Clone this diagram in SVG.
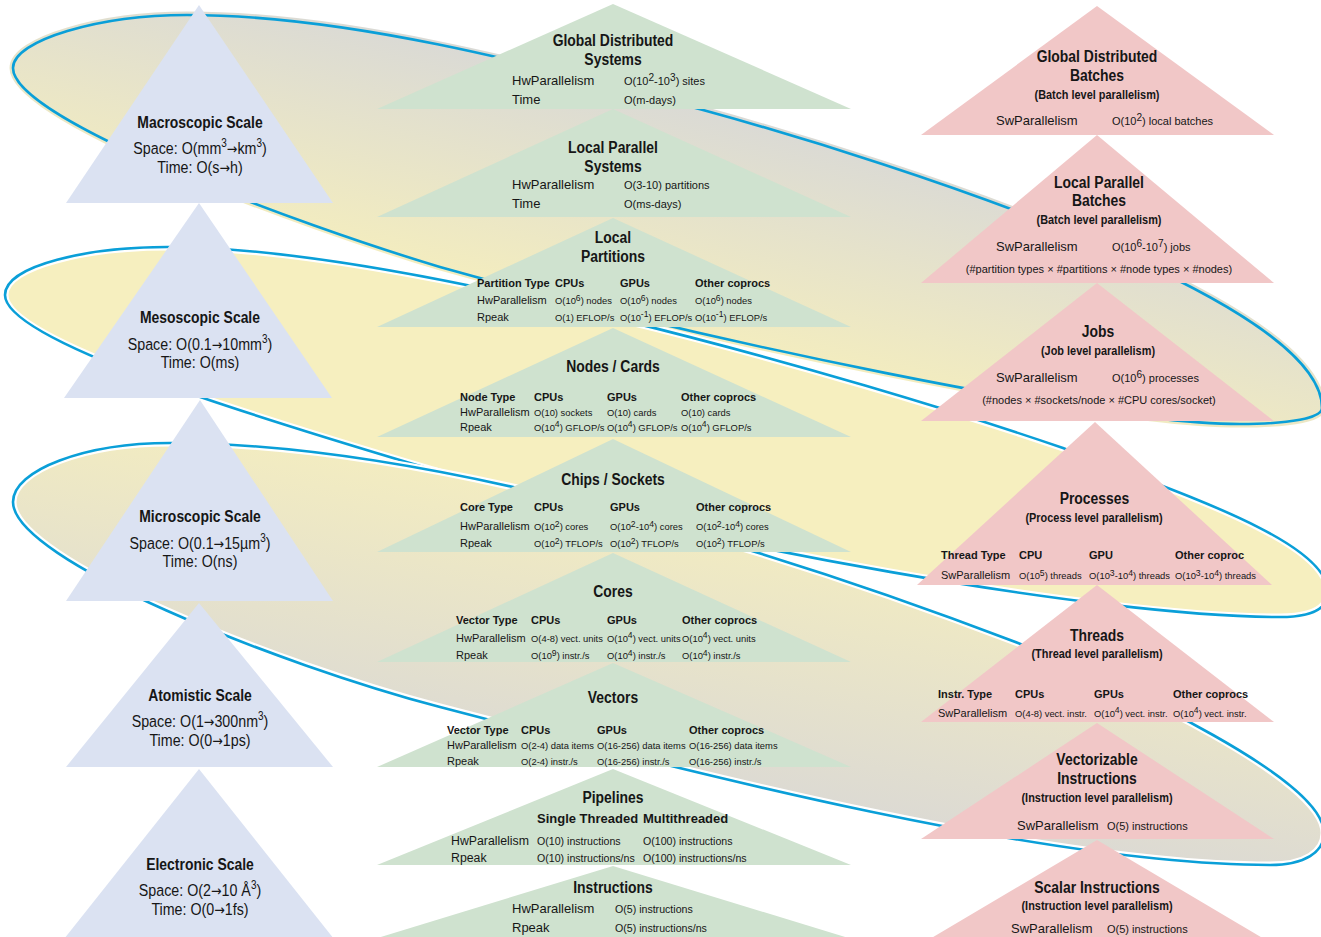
<svg xmlns="http://www.w3.org/2000/svg" width="1321" height="937" viewBox="0 0 1321 937">
<defs>
  <linearGradient id="gA" gradientUnits="userSpaceOnUse" x1="690" y1="95" x2="630" y2="335">
    <stop offset="0" stop-color="#d9d9d6"/>
    <stop offset="1" stop-color="#f5eebd"/>
  </linearGradient>
  <linearGradient id="gC" gradientUnits="userSpaceOnUse" x1="640" y1="480" x2="590" y2="780">
    <stop offset="0" stop-color="#f5eebf"/>
    <stop offset="1" stop-color="#dbd9d4"/>
  </linearGradient>
  <!-- the three scale bands behind the pyramids -->
  <path id="shapeA" d="M13,68 C13,40 100,15 187,15 C360,15 560,72 703,110 C900,164 1322,300 1322,408 C1322,418 1290,424 1240,424 C1100,424 700,340 440,267 C300,225 13,120 13,68 Z"/>
  <path id="shapeB" d="M5,295 C5,265 90,247 167,247 C400,247 850,375 1063,448 C1170,490 1328,540 1328,592 C1328,610 1310,617 1280,617 C1100,617 700,545 440,472 C300,430 5,345 5,295 Z"/>
  <path id="shapeC" d="M13,502 C13,470 85,443 170,443 C450,443 820,567 1018,643 C1130,688 1324,780 1324,833 C1324,852 1305,865 1270,865 C1050,865 700,775 440,707 C280,665 13,560 13,502 Z"/>
  <style>
    text{font-family:"Liberation Sans",Arial,Helvetica,sans-serif;fill:#161616}
    .tt{font-size:17px;font-weight:bold;text-anchor:middle}
    .sub{font-size:13px;font-weight:bold;text-anchor:middle}
    .bd{font-size:17px;text-anchor:middle}
    .lb{font-size:13px}
    .vl{font-size:11px}
    .th{font-size:11px;font-weight:bold}
    .tl{font-size:11px}
    .tv{font-size:9.4px}
    .nt{font-size:11px;text-anchor:middle}
    .th2{font-size:13px;font-weight:bold}
    .lb2{font-size:12.3px}
    .vl2{font-size:10.6px}
    .sp{font-size:70%}
    .su{font-size:92%}
    .ar{font-family:"DejaVu Sans",sans-serif;font-size:15px}
    .blue{fill:#dbe2f2}
    .green{fill:#cfe2cf}
    .pink{fill:#f1c7c7}
    .rim{fill:none;stroke:#0a9fd8;stroke-width:2.6}
    .halo{fill:none;stroke:#ffffff;stroke-width:7}
  </style>
</defs>

<rect width="1321" height="937" fill="#ffffff"/>

<g id="bands">
  <use href="#shapeA" fill="url(#gA)" stroke="url(#gA)" stroke-width="7"/>
  <use href="#shapeA" class="rim"/>
  <use href="#shapeB" fill="#f6efbf"/>
  <use href="#shapeB" class="halo"/>
  <use href="#shapeB" class="rim"/>
  <use href="#shapeC" fill="url(#gC)"/>
  <use href="#shapeC" class="halo"/>
  <use href="#shapeC" class="rim"/>
</g>

<!-- physical scales -->
<g id="scale-macroscopic">
  <polygon class="blue" points="199,5 333,203 66,203"/>
  <text class="tt" transform="translate(200 127.5) scale(.82 1)">Macroscopic Scale</text>
  <text class="bd" transform="translate(200 154) scale(.84 1)">Space: O(mm<tspan class="sp" dy="-7">3</tspan><tspan class="ar" dy="7">→</tspan>km<tspan class="sp" dy="-7">3</tspan><tspan dy="7">)</tspan></text>
  <text class="bd" transform="translate(200 173) scale(.84 1)">Time: O(s<tspan class="ar">→</tspan>h)</text>
</g>
<g id="scale-mesoscopic">
  <polygon class="blue" points="199,203 332,398 64,398"/>
  <text class="tt" transform="translate(200 323) scale(.82 1)">Mesoscopic Scale</text>
  <text class="bd" transform="translate(200 350) scale(.84 1)">Space: O(0.1<tspan class="ar">→</tspan>10mm<tspan class="sp" dy="-7">3</tspan><tspan dy="7">)</tspan></text>
  <text class="bd" transform="translate(200 368) scale(.84 1)">Time: O(ms)</text>
</g>
<g id="scale-microscopic">
  <polygon class="blue" points="200,400 333,601 66,601"/>
  <text class="tt" transform="translate(200 521.7) scale(.82 1)">Microscopic Scale</text>
  <text class="bd" transform="translate(200 549.3) scale(.84 1)">Space: O(0.1<tspan class="ar">→</tspan>15µm<tspan class="sp" dy="-7">3</tspan><tspan dy="7">)</tspan></text>
  <text class="bd" transform="translate(200 566.7) scale(.84 1)">Time: O(ns)</text>
</g>
<g id="scale-atomistic">
  <polygon class="blue" points="199,603 333,767 66,767"/>
  <text class="tt" transform="translate(200 701) scale(.82 1)">Atomistic Scale</text>
  <text class="bd" transform="translate(200 727.3) scale(.84 1)">Space: O(1<tspan class="ar">→</tspan>300nm<tspan class="sp" dy="-7">3</tspan><tspan dy="7">)</tspan></text>
  <text class="bd" transform="translate(200 746) scale(.84 1)">Time: O(0<tspan class="ar">→</tspan>1ps)</text>
</g>
<g id="scale-electronic">
  <polygon class="blue" points="199,769 334,939 64,939"/>
  <text class="tt" transform="translate(200 870) scale(.82 1)">Electronic Scale</text>
  <text class="bd" transform="translate(200 896) scale(.84 1)">Space: O(2<tspan class="ar">→</tspan>10 Å<tspan class="sp" dy="-7">3</tspan><tspan dy="7">)</tspan></text>
  <text class="bd" transform="translate(200 915) scale(.84 1)">Time: O(0<tspan class="ar">→</tspan>1fs)</text>
</g>

<!-- hardware hierarchy -->
<g id="hw-global-distributed-systems">
  <polygon class="green" points="613,4 851,109 377,109"/>
  <text class="tt" transform="translate(613 46) scale(.82 1)">Global Distributed</text>
  <text class="tt" transform="translate(613 65) scale(.82 1)">Systems</text>
  <text class="lb" x="512" y="85">HwParallelism</text>
  <text class="vl" x="624" y="85">O(10<tspan class="su" dy="-4.5">2</tspan><tspan dy="4.5">-10</tspan><tspan class="su" dy="-4.5">3</tspan><tspan dy="4.5">) sites</tspan></text>
  <text class="lb" x="512" y="104">Time</text>
  <text class="vl" x="624" y="104">O(m-days)</text>
</g>
<g id="hw-local-parallel-systems">
  <polygon class="green" points="613,109 851,217 377,217"/>
  <text class="tt" transform="translate(613 152.7) scale(.82 1)">Local Parallel</text>
  <text class="tt" transform="translate(613 171.7) scale(.82 1)">Systems</text>
  <text class="lb" x="512" y="189.3">HwParallelism</text>
  <text class="vl" x="624" y="189.3">O(3-10) partitions</text>
  <text class="lb" x="512" y="208.3">Time</text>
  <text class="vl" x="624" y="208.3">O(ms-days)</text>
</g>
<g id="hw-local-partitions">
  <polygon class="green" points="613,218 851,327 377,327"/>
  <text class="tt" transform="translate(613 242.7) scale(.82 1)">Local</text>
  <text class="tt" transform="translate(613 261.7) scale(.82 1)">Partitions</text>
  <text class="th" x="477" y="286.7">Partition Type</text>
  <text class="th" x="555" y="286.7">CPUs</text>
  <text class="th" x="620" y="286.7">GPUs</text>
  <text class="th" x="695" y="286.7">Other coprocs</text>
  <text class="tl" x="477" y="304">HwParallelism</text>
  <text class="tv" x="555" y="304">O(10<tspan class="su" dy="-3.5">6</tspan><tspan dy="3.5">) nodes</tspan></text>
  <text class="tv" x="620" y="304">O(10<tspan class="su" dy="-3.5">6</tspan><tspan dy="3.5">) nodes</tspan></text>
  <text class="tv" x="695" y="304">O(10<tspan class="su" dy="-3.5">6</tspan><tspan dy="3.5">) nodes</tspan></text>
  <text class="tl" x="477" y="320.7">Rpeak</text>
  <text class="tv" x="555" y="320.7">O(1) EFLOP/s</text>
  <text class="tv" x="620" y="320.7">O(10<tspan class="su" dy="-3.5">-1</tspan><tspan dy="3.5">) EFLOP/s</tspan></text>
  <text class="tv" x="695" y="320.7">O(10<tspan class="su" dy="-3.5">-1</tspan><tspan dy="3.5">) EFLOP/s</tspan></text>
</g>
<g id="hw-nodes-cards">
  <polygon class="green" points="613,328 851,437 377,437"/>
  <text class="tt" transform="translate(613 371.7) scale(.82 1)">Nodes / Cards</text>
  <text class="th" x="460" y="401">Node Type</text>
  <text class="th" x="534" y="401">CPUs</text>
  <text class="th" x="607" y="401">GPUs</text>
  <text class="th" x="681" y="401">Other coprocs</text>
  <text class="tl" x="460" y="415.7">HwParallelism</text>
  <text class="tv" x="534" y="415.7">O(10) sockets</text>
  <text class="tv" x="607" y="415.7">O(10) cards</text>
  <text class="tv" x="681" y="415.7">O(10) cards</text>
  <text class="tl" x="460" y="430.7">Rpeak</text>
  <text class="tv" x="534" y="430.7">O(10<tspan class="su" dy="-3.5">4</tspan><tspan dy="3.5">) GFLOP/s</tspan></text>
  <text class="tv" x="607" y="430.7">O(10<tspan class="su" dy="-3.5">4</tspan><tspan dy="3.5">) GFLOP/s</tspan></text>
  <text class="tv" x="681" y="430.7">O(10<tspan class="su" dy="-3.5">4</tspan><tspan dy="3.5">) GFLOP/s</tspan></text>
</g>
<g id="hw-chips-sockets">
  <polygon class="green" points="613,439 851,552 377,552"/>
  <text class="tt" transform="translate(613 485) scale(.82 1)">Chips / Sockets</text>
  <text class="th" x="460" y="510.7">Core Type</text>
  <text class="th" x="534" y="510.7">CPUs</text>
  <text class="th" x="610" y="510.7">GPUs</text>
  <text class="th" x="696" y="510.7">Other coprocs</text>
  <text class="tl" x="460" y="530">HwParallelism</text>
  <text class="tv" x="534" y="530">O(10<tspan class="su" dy="-3.5">2</tspan><tspan dy="3.5">) cores</tspan></text>
  <text class="tv" x="610" y="530">O(10<tspan class="su" dy="-3.5">2</tspan><tspan dy="3.5">-10</tspan><tspan class="su" dy="-3.5">4</tspan><tspan dy="3.5">) cores</tspan></text>
  <text class="tv" x="696" y="530">O(10<tspan class="su" dy="-3.5">2</tspan><tspan dy="3.5">-10</tspan><tspan class="su" dy="-3.5">4</tspan><tspan dy="3.5">) cores</tspan></text>
  <text class="tl" x="460" y="547.3">Rpeak</text>
  <text class="tv" x="534" y="547.3">O(10<tspan class="su" dy="-3.5">2</tspan><tspan dy="3.5">) TFLOP/s</tspan></text>
  <text class="tv" x="610" y="547.3">O(10<tspan class="su" dy="-3.5">2</tspan><tspan dy="3.5">) TFLOP/s</tspan></text>
  <text class="tv" x="696" y="547.3">O(10<tspan class="su" dy="-3.5">2</tspan><tspan dy="3.5">) TFLOP/s</tspan></text>
</g>
<g id="hw-cores">
  <polygon class="green" points="613,553 851,662 377,662"/>
  <text class="tt" transform="translate(613 597.3) scale(.82 1)">Cores</text>
  <text class="th" x="456" y="624">Vector Type</text>
  <text class="th" x="531" y="624">CPUs</text>
  <text class="th" x="607" y="624">GPUs</text>
  <text class="th" x="682" y="624">Other coprocs</text>
  <text class="tl" x="456" y="641.7">HwParallelism</text>
  <text class="tv" x="531" y="641.7">O(4-8) vect. units</text>
  <text class="tv" x="607" y="641.7">O(10<tspan class="su" dy="-3.5">4</tspan><tspan dy="3.5">) vect. units</tspan></text>
  <text class="tv" x="682" y="641.7">O(10<tspan class="su" dy="-3.5">4</tspan><tspan dy="3.5">) vect. units</tspan></text>
  <text class="tl" x="456" y="659.3">Rpeak</text>
  <text class="tv" x="531" y="659.3">O(10<tspan class="su" dy="-3.5">9</tspan><tspan dy="3.5">) instr./s</tspan></text>
  <text class="tv" x="607" y="659.3">O(10<tspan class="su" dy="-3.5">4</tspan><tspan dy="3.5">) instr./s</tspan></text>
  <text class="tv" x="682" y="659.3">O(10<tspan class="su" dy="-3.5">4</tspan><tspan dy="3.5">) instr./s</tspan></text>
</g>
<g id="hw-vectors">
  <polygon class="green" points="613,663 851,767 377,767"/>
  <text class="tt" transform="translate(613 703.3) scale(.82 1)">Vectors</text>
  <text class="th" x="447" y="734">Vector Type</text>
  <text class="th" x="521" y="734">CPUs</text>
  <text class="th" x="597" y="734">GPUs</text>
  <text class="th" x="689" y="734">Other coprocs</text>
  <text class="tl" x="447" y="749.3">HwParallelism</text>
  <text class="tv" x="521" y="749.3">O(2-4) data items</text>
  <text class="tv" x="597" y="749.3">O(16-256) data items</text>
  <text class="tv" x="689" y="749.3">O(16-256) data items</text>
  <text class="tl" x="447" y="765">Rpeak</text>
  <text class="tv" x="521" y="765">O(2-4) instr./s</text>
  <text class="tv" x="597" y="765">O(16-256) instr./s</text>
  <text class="tv" x="689" y="765">O(16-256) instr./s</text>
</g>
<g id="hw-pipelines">
  <polygon class="green" points="613,769 851,865 377,865"/>
  <text class="tt" transform="translate(613 803.3) scale(.82 1)">Pipelines</text>
  <text class="th2" x="537" y="823.3">Single Threaded</text>
  <text class="th2" x="643" y="823.3">Multithreaded</text>
  <text class="lb2" x="451" y="845">HwParallelism</text>
  <text class="vl2" x="537" y="845">O(10) instructions</text>
  <text class="vl2" x="643" y="845">O(100) instructions</text>
  <text class="lb2" x="451" y="861.7">Rpeak</text>
  <text class="vl2" x="537" y="861.7">O(10) instructions/ns</text>
  <text class="vl2" x="643" y="861.7">O(100) instructions/ns</text>
</g>
<g id="hw-instructions">
  <polygon class="green" points="613,866 855,940 371,940"/>
  <text class="tt" transform="translate(613 892.7) scale(.82 1)">Instructions</text>
  <text class="lb" x="512" y="913.3">HwParallelism</text>
  <text class="vl2" x="615" y="913.3">O(5) instructions</text>
  <text class="lb" x="512" y="931.7">Rpeak</text>
  <text class="vl2" x="615" y="931.7">O(5) instructions/ns</text>
</g>

<!-- software hierarchy -->
<g id="sw-global-distributed-batches">
  <polygon class="pink" points="1097,6 1274,135 921,135"/>
  <text class="tt" transform="translate(1097 61.7) scale(.82 1)">Global Distributed</text>
  <text class="tt" transform="translate(1097 81) scale(.82 1)">Batches</text>
  <text class="sub" transform="translate(1097 98.7) scale(.84 1)">(Batch level parallelism)</text>
  <text class="lb" x="996" y="125">SwParallelism</text>
  <text class="vl" x="1112" y="125">O(10<tspan class="su" dy="-4.5">2</tspan><tspan dy="4.5">) local batches</tspan></text>
</g>
<g id="sw-local-parallel-batches">
  <polygon class="pink" points="1097,135 1274,283 921,283"/>
  <text class="tt" transform="translate(1099 187.7) scale(.82 1)">Local Parallel</text>
  <text class="tt" transform="translate(1099 206) scale(.82 1)">Batches</text>
  <text class="sub" transform="translate(1099 224) scale(.84 1)">(Batch level parallelism)</text>
  <text class="lb" x="996" y="251">SwParallelism</text>
  <text class="vl" x="1112" y="251">O(10<tspan class="su" dy="-4.5">6</tspan><tspan dy="4.5">-10</tspan><tspan class="su" dy="-4.5">7</tspan><tspan dy="4.5">) jobs</tspan></text>
  <text class="nt" x="1099" y="272.7">(#partition types × #partitions × #node types × #nodes)</text>
</g>
<g id="sw-jobs">
  <polygon class="pink" points="1097,283 1274,421 921,421"/>
  <text class="tt" transform="translate(1098 337.3) scale(.82 1)">Jobs</text>
  <text class="sub" transform="translate(1098 355) scale(.84 1)">(Job level parallelism)</text>
  <text class="lb" x="996" y="382.3">SwParallelism</text>
  <text class="vl" x="1112" y="382.3">O(10<tspan class="su" dy="-4.5">6</tspan><tspan dy="4.5">) processes</tspan></text>
  <text class="nt" x="1099" y="404" font-size="11.6">(#nodes × #sockets/node × #CPU cores/socket)</text>
</g>
<g id="sw-processes">
  <polygon class="pink" points="1095,422 1272,585 917,585"/>
  <text class="tt" transform="translate(1094.5 504) scale(.82 1)">Processes</text>
  <text class="sub" transform="translate(1094 521.7) scale(.84 1)">(Process level parallelism)</text>
  <text class="th" x="941" y="559.3">Thread Type</text>
  <text class="th" x="1019" y="559.3">CPU</text>
  <text class="th" x="1089" y="559.3">GPU</text>
  <text class="th" x="1175" y="559.3">Other coproc</text>
  <text class="tl" x="941" y="579.3">SwParallelism</text>
  <text class="tv" x="1019" y="579.3">O(10<tspan class="su" dy="-3.5">5</tspan><tspan dy="3.5">) threads</tspan></text>
  <text class="tv" x="1089" y="579.3">O(10<tspan class="su" dy="-3.5">3</tspan><tspan dy="3.5">-10</tspan><tspan class="su" dy="-3.5">4</tspan><tspan dy="3.5">) threads</tspan></text>
  <text class="tv" x="1175" y="579.3">O(10<tspan class="su" dy="-3.5">3</tspan><tspan dy="3.5">-10</tspan><tspan class="su" dy="-3.5">4</tspan><tspan dy="3.5">) threads</tspan></text>
</g>
<g id="sw-threads">
  <polygon class="pink" points="1097,585 1274,722 921,722"/>
  <text class="tt" transform="translate(1097 640.7) scale(.82 1)">Threads</text>
  <text class="sub" transform="translate(1097 657.7) scale(.84 1)">(Thread level parallelism)</text>
  <text class="th" x="938" y="698.3">Instr. Type</text>
  <text class="th" x="1015" y="698.3">CPUs</text>
  <text class="th" x="1094" y="698.3">GPUs</text>
  <text class="th" x="1173" y="698.3">Other coprocs</text>
  <text class="tl" x="938" y="716.7">SwParallelism</text>
  <text class="tv" x="1015" y="716.7">O(4-8) vect. instr.</text>
  <text class="tv" x="1094" y="716.7">O(10<tspan class="su" dy="-3.5">4</tspan><tspan dy="3.5">) vect. instr.</tspan></text>
  <text class="tv" x="1173" y="716.7">O(10<tspan class="su" dy="-3.5">4</tspan><tspan dy="3.5">) vect. instr.</tspan></text>
</g>
<g id="sw-vectorizable-instructions">
  <polygon class="pink" points="1097,723 1274,839 921,839"/>
  <text class="tt" transform="translate(1097 765) scale(.82 1)">Vectorizable</text>
  <text class="tt" transform="translate(1097 784) scale(.82 1)">Instructions</text>
  <text class="sub" transform="translate(1097 801.7) scale(.84 1)">(Instruction level parallelism)</text>
  <text class="lb" x="1017" y="830">SwParallelism</text>
  <text class="vl" x="1107" y="830">O(5) instructions</text>
</g>
<g id="sw-scalar-instructions">
  <polygon class="pink" points="1097,840 1276,946 918,946"/>
  <text class="tt" transform="translate(1097 893.3) scale(.82 1)">Scalar Instructions</text>
  <text class="sub" transform="translate(1097 910) scale(.84 1)">(Instruction level parallelism)</text>
  <text class="lb" x="1011" y="932.7">SwParallelism</text>
  <text class="vl" x="1107" y="932.7">O(5) instructions</text>
</g>
</svg>
